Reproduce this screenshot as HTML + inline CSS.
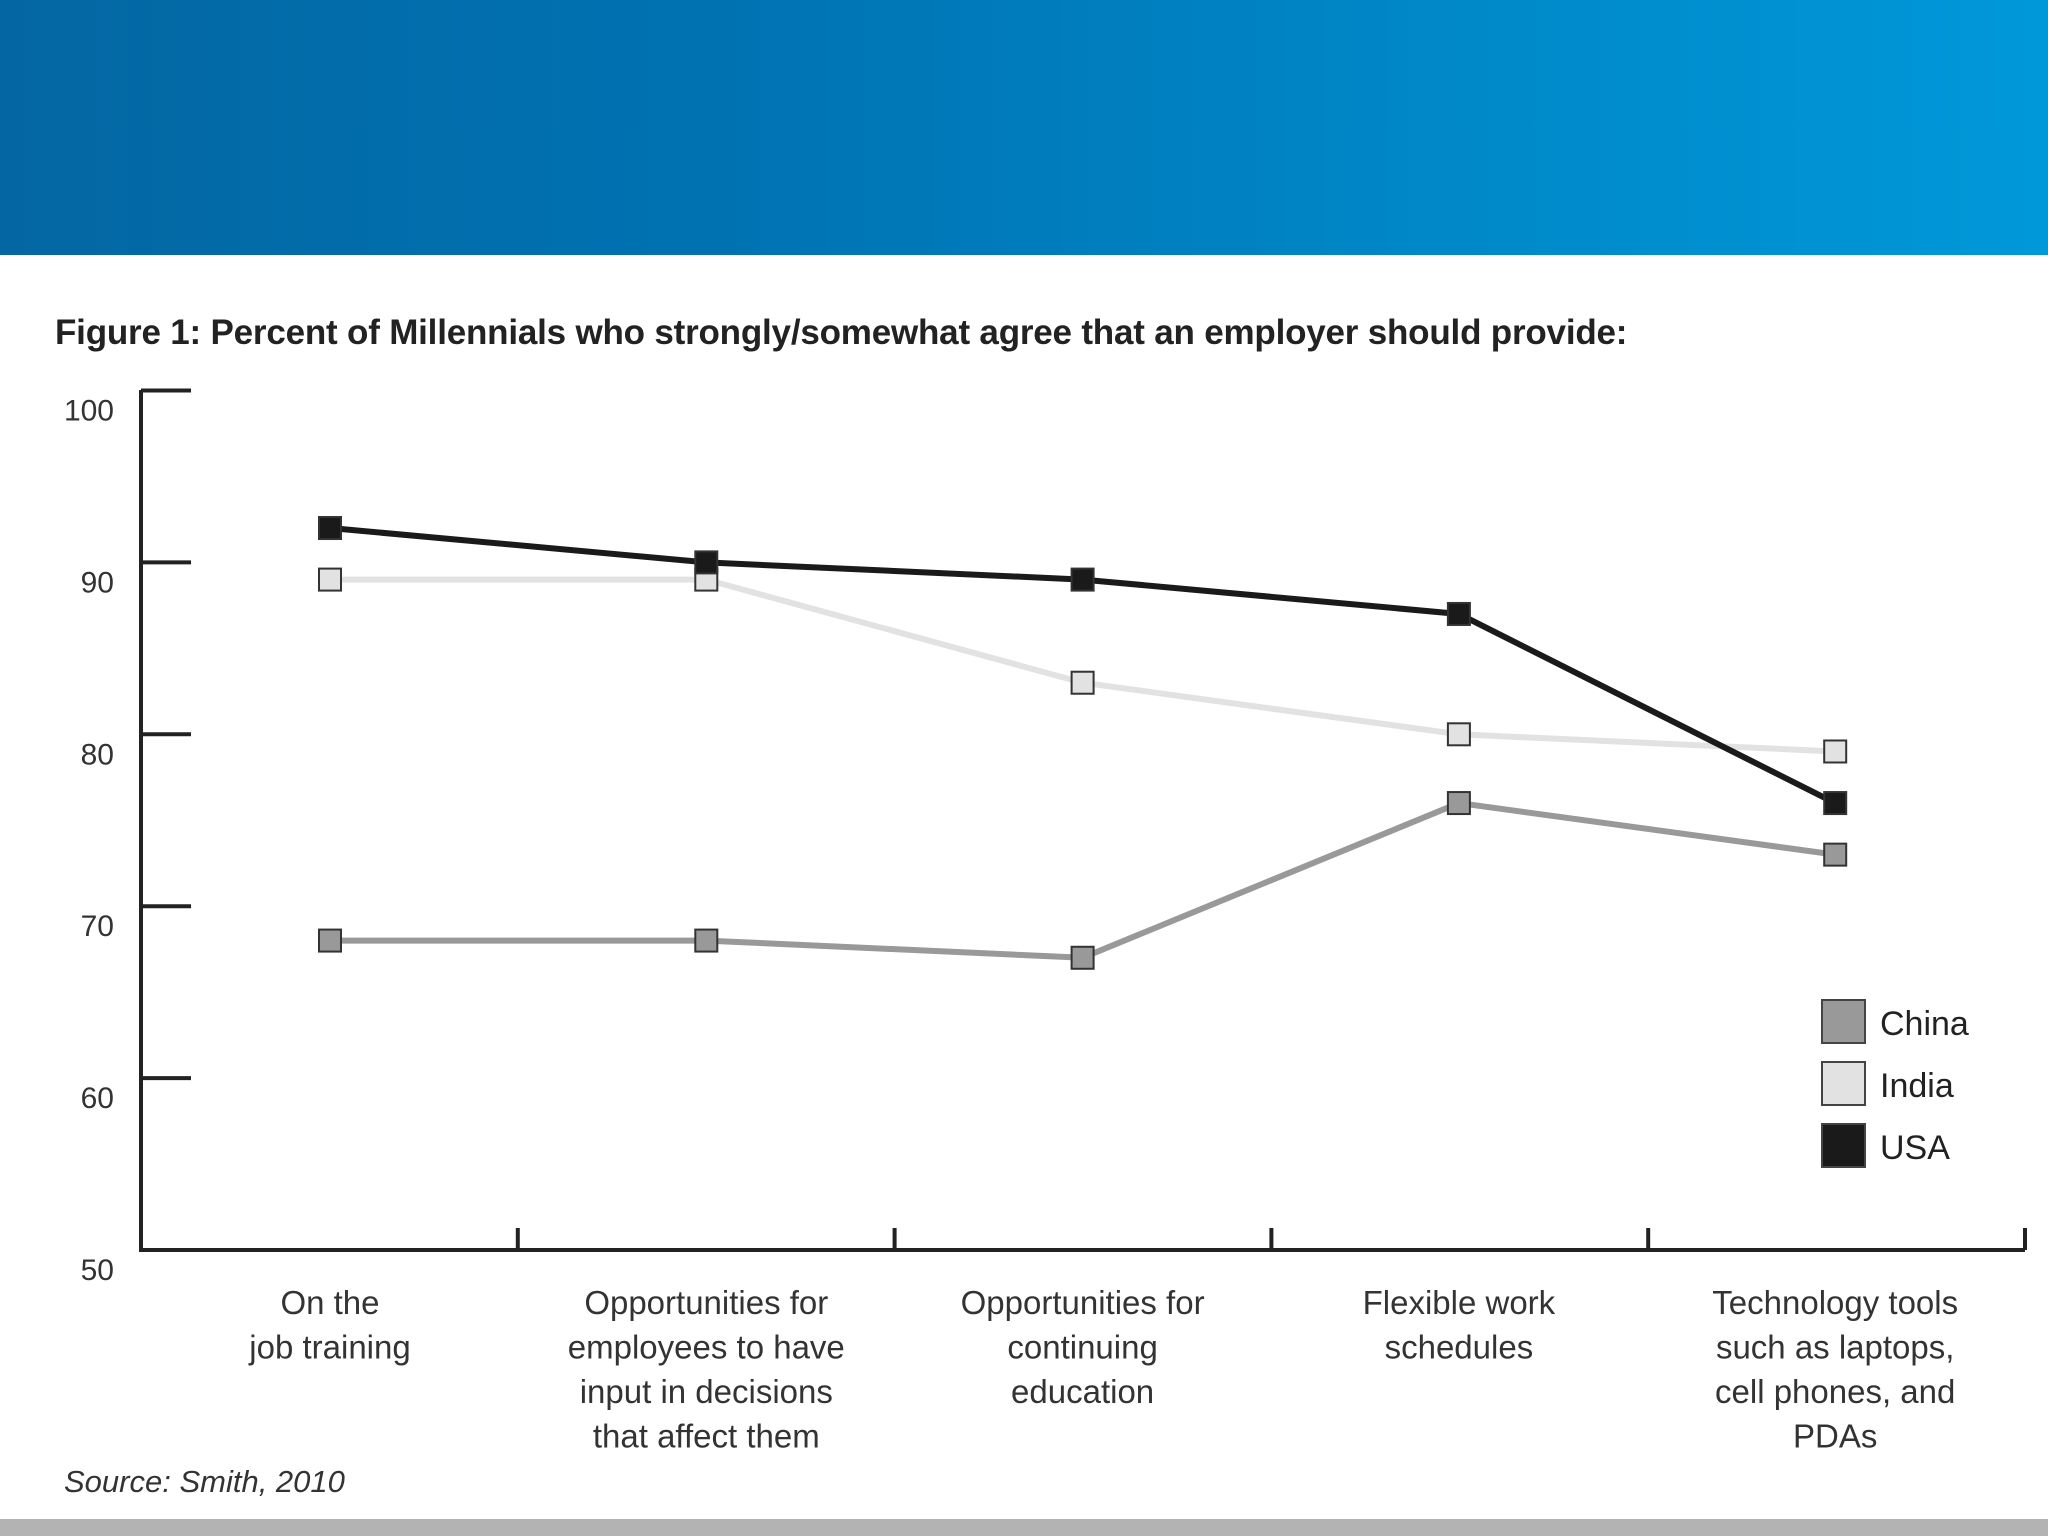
<!DOCTYPE html>
<html><head><meta charset="utf-8">
<style>
html,body{margin:0;padding:0;background:#fff;}
body{width:2048px;height:1536px;overflow:hidden;position:relative;font-family:"Liberation Sans",sans-serif;}
#header{position:absolute;left:0;top:0;width:2048px;height:255px;background:linear-gradient(90deg,#0467a3 0%,#0072b2 35%,#0088c8 70%,#0098d9 100%);}
#footer{position:absolute;left:0;top:1519px;width:2048px;height:17px;background:#b3b3b3;}
#title{position:absolute;left:55px;top:313px;font-size:35px;letter-spacing:-0.2px;font-weight:bold;color:#222;white-space:nowrap;}
</style></head>
<body>
<div id="header"></div>
<div id="title">Figure 1: Percent of Millennials who strongly/somewhat agree that an employer should provide:</div>
<svg id="chart" width="2048" height="1536" style="position:absolute;left:0;top:0"></svg>
<div id="footer"></div>
<script>
const categories=[["On the","job training"],["Opportunities for","employees to have","input in decisions","that affect them"],["Opportunities for","continuing","education"],["Flexible work","schedules"],["Technology tools","such as laptops,","cell phones, and","PDAs"]];
const china=[68,68,67,76,73];
const india=[89,89,83,80,79];
const usa=[92,90,89,87,76];
const yTicks=[100,90,80,70,60,50];
const seriesNames=["China","India","USA"];

const NS="http://www.w3.org/2000/svg";
const svg=document.getElementById('chart');
function y(v){return 1250-(v-50)*17.19;}
function x(i){return 330+i*376.3;}
function mk(tag,attrs,parent){const e=document.createElementNS(NS,tag);for(const k in attrs)e.setAttribute(k,attrs[k]);(parent||svg).appendChild(e);return e;}

const ax=mk('path',{d:'M141 390 L141 1250 L2025 1250',fill:'none',stroke:'#222','stroke-width':4});


yTicks.forEach(v=>{
  if(v>50){const t=mk('line',{x1:141,x2:191,y1:y(v),y2:y(v),stroke:'#222','stroke-width':4});
  
  }
  const l=mk('text',{x:114,y:y(v)+30,'text-anchor':'end','font-size':30,fill:'#333'});
  l.textContent=v;
  
  
});
for(let i=1;i<=5;i++){
  const xx=141+i*376.8;
  const t=mk('line',{x1:xx,x2:xx,y1:1228,y2:1250,stroke:'#222','stroke-width':4});
  
  
}
categories.forEach((lines,i)=>{
  lines.forEach((s,j)=>{
    const t=mk('text',{x:x(i),y:1314+j*44.5,'text-anchor':'middle','font-size':33,fill:'#333'});
    t.textContent=s;
    
    
  });
});
function series(data,color,name){
  const p=mk('polyline',{points:data.map((v,i)=>x(i)+','+y(v)).join(' '),fill:'none',stroke:color,'stroke-width':6});
  
  
  data.forEach((v,i)=>{
    const r=mk('rect',{x:x(i)-11,y:y(v)-11,width:22,height:22,fill:color,stroke:'#333','stroke-width':2});
    
    
  });
}
series(india,'#e2e2e2','india');
series(china,'#999999','china');
series(usa,'#1a1a1a','usa');
const legColors=['#999999','#e2e2e2','#1a1a1a'];
seriesNames.forEach((n,i)=>{
  const r=mk('rect',{x:1822,y:1000+i*62,width:43,height:43,fill:legColors[i],stroke:'#444','stroke-width':2});
  
  
  const t=mk('text',{x:1880,y:1035+i*62,'font-size':34,fill:'#222'});
  t.textContent=n;
  
  
});
const src=mk('text',{x:64,y:1492,'font-size':31,'font-style':'italic',fill:'#333'});
src.textContent='Source: Smith, 2010';


</script>
</body></html>
